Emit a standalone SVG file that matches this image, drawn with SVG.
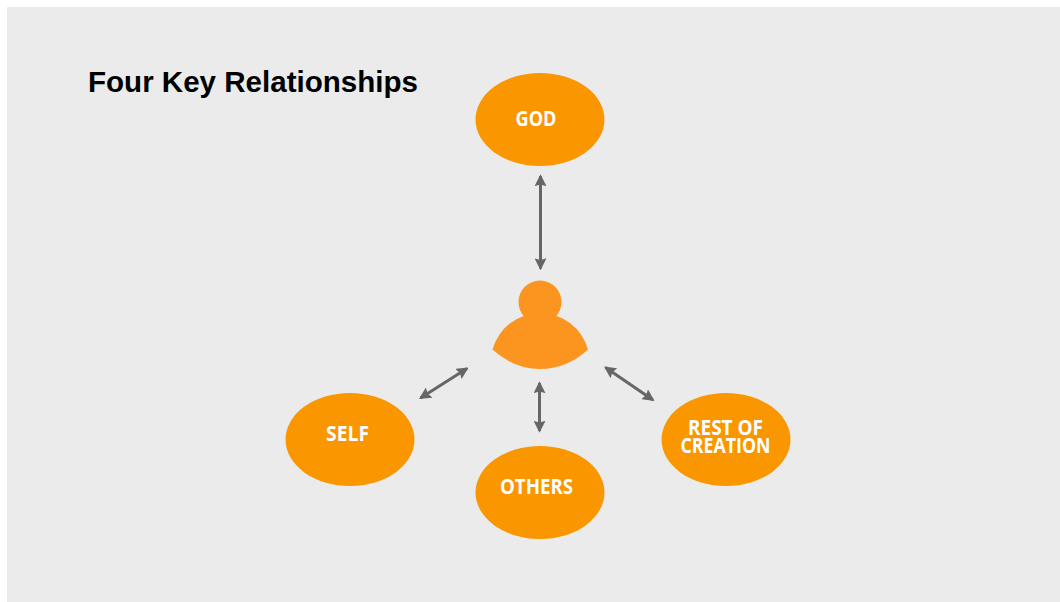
<svg xmlns="http://www.w3.org/2000/svg" width="1060" height="602" viewBox="0 0 1060 602">
<style>
.o{fill:#fa9600}
.p{fill:#fb951f}
.t{font-family:"Open Sans","Noto Sans",sans-serif;font-weight:700;font-size:21px;fill:#fff;text-anchor:middle}
.c{stroke:#666668;stroke-width:3;fill:none;marker-start:url(#a);marker-end:url(#a)}
</style>
<defs>
<marker id="a" viewBox="0 0 10 10" refX="8.500" refY="5" markerWidth="4" markerHeight="4" orient="auto-start-reverse"><path d="M0 0L10 5L0 10L1.500 5Z" fill="#666668"/></marker>
</defs>
<rect width="1060" height="602" fill="#fff"/>
<rect x="7" y="7" width="1053" height="595" fill="#ebebeb"/>
<text x="88" y="92" font-family="'Liberation Sans',Arial,sans-serif" font-weight="700" font-size="29" textLength="330" lengthAdjust="spacingAndGlyphs" fill="#000">Four Key Relationships</text>
<g id="connectors">
<line class="c" x1="540.500" y1="176" x2="540.500" y2="268.500"/>
<line class="c" x1="420.500" y1="398" x2="467" y2="368.500"/>
<line class="c" x1="539.500" y1="383" x2="539.500" y2="431"/>
<line class="c" x1="605.500" y1="367.500" x2="653" y2="400"/>
</g>
<g id="god"><ellipse class="o" cx="540" cy="119.500" rx="64.500" ry="46.500"/><text class="t" x="536" y="125.500" textLength="41" lengthAdjust="spacingAndGlyphs">GOD</text></g>
<g id="person"><circle class="p" cx="540" cy="302" r="21.500"/><path class="p" d="M492.500 349.500A49.500 49.500 0 0 1 588 349.500Q567 369 540 369Q514 369 492.500 349.500Z"/></g>
<g id="self"><ellipse class="o" cx="350" cy="439.500" rx="64.500" ry="46.500"/><text class="t" x="347.500" y="440.500" textLength="43" lengthAdjust="spacingAndGlyphs">SELF</text></g>
<g id="others"><ellipse class="o" cx="540" cy="492.500" rx="64.500" ry="46.500"/><text class="t" x="536.500" y="493.500" textLength="73" lengthAdjust="spacingAndGlyphs">OTHERS</text></g>
<g id="creation"><ellipse class="o" cx="726" cy="439.500" rx="64.500" ry="46.500"/><text class="t"><tspan x="725.500" y="435" textLength="75" lengthAdjust="spacingAndGlyphs">REST OF</tspan><tspan x="725.500" y="452.500" textLength="90" lengthAdjust="spacingAndGlyphs">CREATION</tspan></text></g>
</svg>
